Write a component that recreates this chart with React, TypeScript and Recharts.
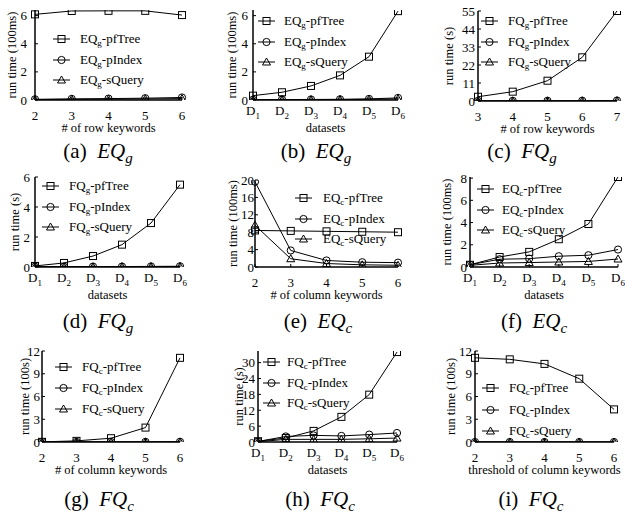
import React from "react";
import { LineChart, Line, XAxis, YAxis, Legend } from "recharts";

const FONT = '"Liberation Serif", "Times New Roman", "DejaVu Serif", serif';

// x categories
const rowKeywords = ["2", "3", "4", "5", "6"];
const rowKeywords3to7 = ["3", "4", "5", "6", "7"];
const colKeywords = ["2", "3", "4", "5", "6"];
const datasets = ["D1", "D2", "D3", "D4", "D5", "D6"];

// y tick labels
const ticksBy2 = [0, 2, 4, 6];
const ticksBy11 = [0, 11, 22, 33, 44, 55];
const ticksBy4 = [0, 4, 8, 12, 16, 20];
const ticksBy2to8 = [0, 2, 4, 6, 8];
const ticksBy3 = [0, 3, 6, 9, 12];
const ticksBy6 = [0, 6, 12, 18, 24, 30];

// (a) EQg vs # of row keywords (100ms)
const aPfTree = [6.09, 6.33, 6.34, 6.34, 6.04];
const aPIndex = [0.05, 0.08, 0.1, 0.13, 0.18];
const aSQuery = [0.03, 0.05, 0.06, 0.08, 0.1];
// (b) EQg vs datasets (100ms)
const bPfTree = [0.31, 0.55, 1.0, 1.75, 3.08, 6.32];
const bPIndex = [0.02, 0.03, 0.04, 0.05, 0.08, 0.15];
const bSQuery = [0.01, 0.02, 0.02, 0.03, 0.05, 0.08];
// (c) FQg vs # of row keywords (s)
const cPfTree = [2.6, 5.7, 12.4, 26.7, 55];
const cPIndex = [0.1, 0.12, 0.15, 0.2, 0.3];
const cSQuery = [0.05, 0.06, 0.08, 0.1, 0.15];
// (d) FQg vs datasets (s)
const dPfTree = [0.07, 0.27, 0.73, 1.49, 2.93, 5.49];
const dPIndex = [0.02, 0.02, 0.03, 0.03, 0.04, 0.05];
const dSQuery = [0.01, 0.01, 0.01, 0.02, 0.02, 0.03];
// (e) EQc vs # of column keywords (100ms)
const ePfTree = [8.4, 8.3, 8.2, 8.1, 8.0];
const ePIndex = [19.6, 3.8, 1.5, 1.1, 1.0];
const eSQuery = [9.6, 1.9, 0.8, 0.5, 0.4];
// (f) EQc vs datasets (100ms)
const fPfTree = [0.2, 0.9, 1.36, 2.5, 3.87, 8.1];
const fPIndex = [0.2, 0.7, 0.75, 0.97, 1.06, 1.57];
const fSQuery = [0.15, 0.36, 0.4, 0.45, 0.5, 0.72];
// (g) FQc vs # of column keywords (100s)
const gPfTree = [0.02, 0.15, 0.5, 1.9, 11.1];
const gPIndex = [0.01, 0.01, 0.02, 0.02, 0.03];
const gSQuery = [0.0, 0.0, 0.01, 0.01, 0.01];
// (h) FQc vs datasets (s)
const hPfTree = [0.3, 1.5, 4.2, 9.5, 17.9, 34];
const hPIndex = [0.2, 2.1, 2.5, 2.3, 2.8, 3.4];
const hSQuery = [0.1, 1.0, 1.0, 1.0, 1.2, 1.5];
// (i) FQc vs threshold of column keywords (100s)
const iPfTree = [11.1, 10.9, 10.3, 8.35, 4.3];
const iPIndex = [0, 0, 0, 0, 0];
const iSQuery = [0, 0, 0, 0, 0];

type Panel = {
  tag: string;
  q: string;
  sub: string;
  cats: string[];
  xLabel: string;
  yLabel: string;
  yMax: number;
  yTicks: number[];
  pf: number[];
  pi: number[];
  sq: number[];
  box: [number, number, number, number];
  tickGap: number;
  yLabelX: number;
  leg: { sx: number; tx: number; ly: number; dy: number };
  cap: [number, number];
};

const panels: Panel[] = [
  {
    tag: "a", q: "EQ", sub: "g", cats: rowKeywords, xLabel: "# of row keywords", yLabel: "run time (100ms)",
    yMax: 6.4, yTicks: ticksBy2, pf: aPfTree, pi: aPIndex, sq: aSQuery,
    box: [35, 10, 182, 100], tickGap: 8, yLabelX: 12,
    leg: { sx: 53, tx: 80, ly: 39, dy: 20.5 }, cap: [98, 151],
  },
  {
    tag: "b", q: "EQ", sub: "g", cats: datasets, xLabel: "datasets", yLabel: "run time (100ms)",
    yMax: 6.4, yTicks: ticksBy2, pf: bPfTree, pi: bPIndex, sq: bSQuery,
    box: [253, 10, 398, 100], tickGap: 5, yLabelX: 232,
    leg: { sx: 258, tx: 284, ly: 21, dy: 20.5 }, cap: [316, 151],
  },
  {
    tag: "c", q: "FQ", sub: "g", cats: rowKeywords3to7, xLabel: "# of row keywords", yLabel: "run time (s)",
    yMax: 55, yTicks: ticksBy11, pf: cPfTree, pi: cPIndex, sq: cSQuery,
    box: [478, 11, 617, 101], tickGap: 3, yLabelX: 449,
    leg: { sx: 481, tx: 508, ly: 21, dy: 20.5 }, cap: [522, 151],
  },
  {
    tag: "d", q: "FQ", sub: "g", cats: datasets, xLabel: "datasets", yLabel: "run time (s)",
    yMax: 6, yTicks: ticksBy2, pf: dPfTree, pi: dPIndex, sq: dSQuery,
    box: [35, 177, 180, 267], tickGap: 5, yLabelX: 15,
    leg: { sx: 42, tx: 69, ly: 186, dy: 20.5 }, cap: [98, 321],
  },
  {
    tag: "e", q: "EQ", sub: "c", cats: colKeywords, xLabel: "# of column keywords", yLabel: "run time (100ms)",
    yMax: 20, yTicks: ticksBy4, pf: ePfTree, pi: ePIndex, sq: eSQuery,
    box: [255, 180, 398, 267], tickGap: 1, yLabelX: 233,
    leg: { sx: 295, tx: 323, ly: 198, dy: 20.5 }, cap: [318, 321],
  },
  {
    tag: "f", q: "EQ", sub: "c", cats: datasets, xLabel: "datasets", yLabel: "run time (100ms)",
    yMax: 8.1, yTicks: ticksBy2to8, pf: fPfTree, pi: fPIndex, sq: fSQuery,
    box: [470, 177, 618, 267], tickGap: 3, yLabelX: 447,
    leg: { sx: 477, tx: 502, ly: 189, dy: 20.5 }, cap: [534, 321],
  },
  {
    tag: "g", q: "FQ", sub: "c", cats: colKeywords, xLabel: "# of column keywords", yLabel: "run time (100s)",
    yMax: 12, yTicks: ticksBy3, pf: gPfTree, pi: gPIndex, sq: gSQuery,
    box: [42, 351, 180, 442], tickGap: 2, yLabelX: 25,
    leg: { sx: 55, tx: 82, ly: 367, dy: 21 }, cap: [99, 499],
  },
  {
    tag: "h", q: "FQ", sub: "c", cats: datasets, xLabel: "datasets", yLabel: "run time (s)",
    yMax: 34.4, yTicks: ticksBy6, pf: hPfTree, pi: hPIndex, sq: hSQuery,
    box: [258, 351, 397, 442], tickGap: 3, yLabelX: 239,
    leg: { sx: 263, tx: 287, ly: 362, dy: 20.5 }, cap: [320, 499],
  },
  {
    tag: "i", q: "FQ", sub: "c", cats: colKeywords, xLabel: "threshold of column keywords", yLabel: "run time (100s)",
    yMax: 12, yTicks: ticksBy3, pf: iPfTree, pi: iPIndex, sq: iSQuery,
    box: [475, 351, 614, 442], tickGap: 3, yLabelX: 451,
    leg: { sx: 482, tx: 509, ly: 388, dy: 21.5 }, cap: [531, 499],
  },
];

type Shape = "square" | "circle" | "triangle";

function marker(shape: Shape, cx: number, cy: number, key?: string) {
  if (shape === "square") {
    return <rect key={key} x={cx - 3.5} y={cy - 3.5} width={7} height={7} fill="none" stroke="#000" strokeWidth={1} />;
  }
  if (shape === "circle") {
    return <circle key={key} cx={cx} cy={cy} r={3.6} fill="none" stroke="#000" strokeWidth={1} />;
  }
  return (
    <polygon key={key} points={`${cx},${cy - 4} ${cx + 4},${cy + 3} ${cx - 4},${cy + 3}`} fill="none" stroke="#000" strokeWidth={1} />
  );
}

const series: { key: string; name: string; shape: Shape }[] = [
  { key: "pf", name: "pfTree", shape: "square" },
  { key: "pi", name: "pIndex", shape: "circle" },
  { key: "sq", name: "sQuery", shape: "triangle" },
];

function XTick({ x, y, payload }: any) {
  const v = String(payload.value);
  if (v.startsWith("D")) {
    return (
      <text x={x} y={y + 11} textAnchor="middle" fontSize={13} fontFamily={FONT} fill="#000">
        D<tspan fontSize={9} dy={3.5}>{v.slice(1)}</tspan>
      </text>
    );
  }
  return (
    <text x={x} y={y + 16} textAnchor="middle" fontSize={13} fontFamily={FONT} fill="#000">
      {v}
    </text>
  );
}

const noTick = () => <g />;

function PanelChart({ p }: { p: Panel }) {
  const [x0, y0, x1, y1] = p.box;
  const left = x0 - 40;
  const top = y0 - 8;
  const w = x1 - x0 + 50;
  const h = y1 - y0 + 58;
  const data = p.cats.map((x, i) => ({ x, pf: p.pf[i], pi: p.pi[i], sq: p.sq[i] }));
  const textStyle = { fontSize: 13, fontFamily: FONT, fill: "#000" };
  const labelStyle = { fontSize: 12.5, fontFamily: FONT, fill: "#000" };

  const legendContent = () => (
    <div style={{ fontFamily: FONT, fontSize: 13, color: "#000" }}>
      {series.map((s) => (
        <div key={s.key} style={{ height: p.leg.dy, display: "flex", alignItems: "center", whiteSpace: "nowrap" }}>
          <svg width={17} height={10} style={{ flex: "none" }}>
            <line x1={0} y1={5} x2={17} y2={5} stroke="#000" strokeWidth={1} />
            {marker(s.shape, 8.5, 5)}
          </svg>
          <span style={{ marginLeft: p.leg.tx - p.leg.sx - 17 }}>
            {p.q}
            <span style={{ fontSize: 9, position: "relative", top: 3 }}>{p.sub}</span>-{s.name}
          </span>
        </div>
      ))}
    </div>
  );

  return (
    <>
      <div style={{ position: "absolute", left, top, width: w, height: h }}>
        <LineChart width={w} height={h} data={data} margin={{ top: 8, right: 10, left: 0, bottom: 0 }}>
          <XAxis
            dataKey="x"
            type="category"
            height={50}
            interval={0}
            tick={<XTick />}
            tickSize={-3}
            tickMargin={7}
            tickLine={{ stroke: "#000" }}
            axisLine={{ stroke: "#000", strokeWidth: 1.5 }}
            label={{ value: p.xLabel, position: "insideBottom", offset: 18, style: labelStyle }}
          />
          <XAxis
            xAxisId="top"
            dataKey="x"
            type="category"
            orientation="top"
            height={0}
            interval={0}
            tick={noTick}
            tickSize={-3}
            tickLine={{ stroke: "#000" }}
            axisLine={{ stroke: "#000", strokeWidth: 1.5 }}
          />
          <YAxis
            type="number"
            width={40}
            domain={[0, p.yMax]}
            ticks={p.yTicks}
            allowDataOverflow
            interval={0}
            tickSize={-3}
            tickMargin={3 + p.tickGap}
            tick={textStyle}
            tickLine={{ stroke: "#000" }}
            axisLine={{ stroke: "#000", strokeWidth: 1.5 }}
            label={{
              value: p.yLabel,
              angle: -90,
              position: "insideLeft",
              offset: 40 - (x0 - p.yLabelX),
              style: { ...labelStyle, textAnchor: "middle" },
            }}
          />
          <YAxis
            yAxisId="right"
            type="number"
            orientation="right"
            width={0}
            domain={[0, p.yMax]}
            ticks={p.yTicks}
            allowDataOverflow
            interval={0}
            tick={noTick}
            tickSize={-3}
            tickLine={{ stroke: "#000" }}
            axisLine={{ stroke: "#000", strokeWidth: 1.5 }}
          />
          <Legend
            layout="vertical"
            align="center"
            verticalAlign="middle"
            content={legendContent}
            wrapperStyle={{ left: p.leg.sx - left, top: p.leg.ly - p.leg.dy / 2 - top, width: 140, height: p.leg.dy * 3 }}
          />
          {series.map((s) => (
            <Line
              key={s.key}
              dataKey={s.key}
              type="linear"
              stroke="#000"
              strokeWidth={1}
              isAnimationActive={false}
              dot={(props: any) => marker(s.shape, props.cx, props.cy, `${p.tag}-${s.key}-${props.index}`)}
              activeDot={false}
            />
          ))}
        </LineChart>
      </div>
      <div
        style={{
          position: "absolute",
          left: p.cap[0] - 60,
          top: p.cap[1] - 12,
          width: 120,
          textAlign: "center",
          fontFamily: FONT,
          fontSize: 21,
          lineHeight: "24px",
          color: "#000",
          whiteSpace: "nowrap",
        }}
      >
        ({p.tag})&nbsp;&nbsp;
        <i>{p.q}</i>
        <i style={{ fontSize: 15, position: "relative", top: 5 }}>{p.sub}</i>
      </div>
    </>
  );
}

export default function App() {
  return (
    <div style={{ position: "absolute", left: 0, top: 0, width: 625, height: 514, background: "#fff" }}>
      {panels.map((p) => (
        <PanelChart key={p.tag} p={p} />
      ))}
    </div>
  );
}
